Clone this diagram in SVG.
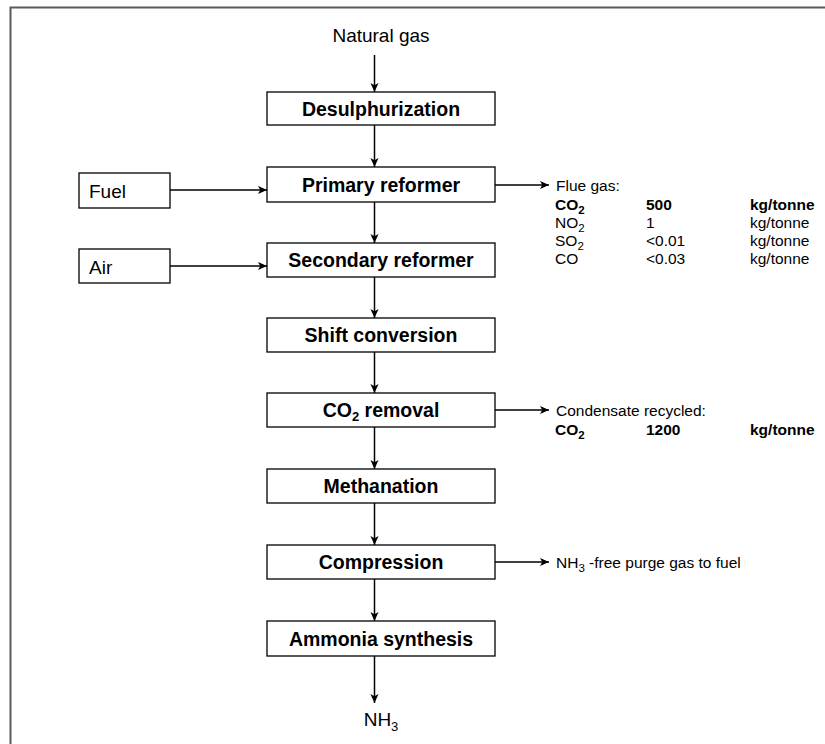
<svg xmlns="http://www.w3.org/2000/svg" width="825" height="744" viewBox="0 0 825 744">
<defs>
<marker id="ah" viewBox="0 0 10 10" refX="10" refY="5" markerWidth="9" markerHeight="9" markerUnits="userSpaceOnUse" orient="auto">
<path d="M0,0.5 L10,5 L0,9.5 L2.5,5 Z" fill="#000"/>
</marker>
<style>
.box{fill:#fff;stroke:#000;stroke-width:1.3}
.bt{font-family:"Liberation Sans",Arial,sans-serif;font-size:19.5px;font-weight:bold;fill:#000;text-anchor:middle}
.t{font-family:"Liberation Sans",Arial,sans-serif;font-size:19px;fill:#000}
.s{font-family:"Liberation Sans",Arial,sans-serif;font-size:15.5px;fill:#000}
.sb{font-family:"Liberation Sans",Arial,sans-serif;font-size:15.5px;font-weight:bold;fill:#000}
.c{stroke:#000;stroke-width:1.5;fill:none;marker-end:url(#ah)}
</style>
</defs>
<rect width="825" height="744" fill="#fff"/>
<path d="M10.5,744 V7.5 H825" fill="none" stroke="#5a5a5a" stroke-width="2"/>

<g id="connectors">
<line class="c" x1="374.5" y1="55" x2="374.5" y2="92"/>
<line class="c" x1="374.5" y1="125" x2="374.5" y2="167"/>
<line class="c" x1="374.5" y1="202" x2="374.5" y2="243"/>
<line class="c" x1="374.5" y1="277" x2="374.5" y2="318"/>
<line class="c" x1="374.5" y1="352" x2="374.5" y2="393"/>
<line class="c" x1="374.5" y1="427" x2="374.5" y2="469"/>
<line class="c" x1="374.5" y1="503" x2="374.5" y2="545"/>
<line class="c" x1="374.5" y1="579" x2="374.5" y2="621"/>
<line class="c" x1="374.5" y1="656" x2="374.5" y2="703"/>
<line class="c" x1="170" y1="190" x2="267" y2="190"/>
<line class="c" x1="170" y1="266" x2="267" y2="266"/>
<line class="c" x1="495" y1="185" x2="549" y2="185"/>
<line class="c" x1="495" y1="410" x2="549" y2="410"/>
<line class="c" x1="495" y1="562" x2="549" y2="562"/>
</g>

<g id="natural-gas"><text class="t" x="381" y="42" text-anchor="middle">Natural gas</text></g>
<g id="desulphurization"><rect class="box" x="267" y="92" width="228" height="33"/><text class="bt" x="381" y="115.5">Desulphurization</text></g>
<g id="fuel"><rect class="box" x="79" y="173" width="91" height="35"/><text class="t" x="89" y="198">Fuel</text></g>
<g id="primary-reformer"><rect class="box" x="267" y="167" width="228" height="35"/><text class="bt" x="381" y="191.5">Primary reformer</text></g>
<g id="air"><rect class="box" x="79" y="249" width="91" height="34"/><text class="t" x="89" y="273.5">Air</text></g>
<g id="secondary-reformer"><rect class="box" x="267" y="243" width="228" height="34"/><text class="bt" x="381" y="267">Secondary reformer</text></g>
<g id="shift-conversion"><rect class="box" x="267" y="318" width="228" height="34"/><text class="bt" x="381" y="342">Shift conversion</text></g>
<g id="co2-removal"><rect class="box" x="267" y="393" width="228" height="34"/><text class="bt" x="381" y="417">CO<tspan font-size="13" dy="4">2</tspan><tspan dy="-4"> removal</tspan></text></g>
<g id="methanation"><rect class="box" x="267" y="469" width="228" height="34"/><text class="bt" x="381" y="493">Methanation</text></g>
<g id="compression"><rect class="box" x="267" y="545" width="228" height="34"/><text class="bt" x="381" y="569">Compression</text></g>
<g id="ammonia-synthesis"><rect class="box" x="267" y="621" width="228" height="35"/><text class="bt" x="381" y="645.5">Ammonia synthesis</text></g>
<g id="nh3"><text class="t" x="381" y="726" text-anchor="middle">NH<tspan font-size="13" dy="5">3</tspan></text></g>

<g id="flue-gas">
<text class="s" x="556" y="191">Flue gas:</text>
<text class="sb" x="555" y="209.5">CO<tspan font-size="11.5" dy="4">2</tspan></text>
<text class="sb" x="646" y="209.5">500</text>
<text class="sb" x="750" y="209.5">kg/tonne</text>
<text class="s" x="555" y="227.5">NO<tspan font-size="11.5" dy="4">2</tspan></text>
<text class="s" x="646" y="227.5">1</text>
<text class="s" x="750" y="227.5">kg/tonne</text>
<text class="s" x="555" y="246">SO<tspan font-size="11.5" dy="4">2</tspan></text>
<text class="s" x="646" y="246">&lt;0.01</text>
<text class="s" x="750" y="246">kg/tonne</text>
<text class="s" x="555" y="264">CO</text>
<text class="s" x="646" y="264">&lt;0.03</text>
<text class="s" x="750" y="264">kg/tonne</text>
</g>
<g id="condensate">
<text class="s" x="556" y="416">Condensate recycled:</text>
<text class="sb" x="555" y="435">CO<tspan font-size="11.5" dy="4">2</tspan></text>
<text class="sb" x="646" y="435">1200</text>
<text class="sb" x="750" y="435">kg/tonne</text>
</g>
<g id="purge"><text class="s" x="556" y="567.5">NH<tspan font-size="11.5" dy="4">3</tspan><tspan dy="-4"> -free purge gas to fuel</tspan></text></g>
</svg>
